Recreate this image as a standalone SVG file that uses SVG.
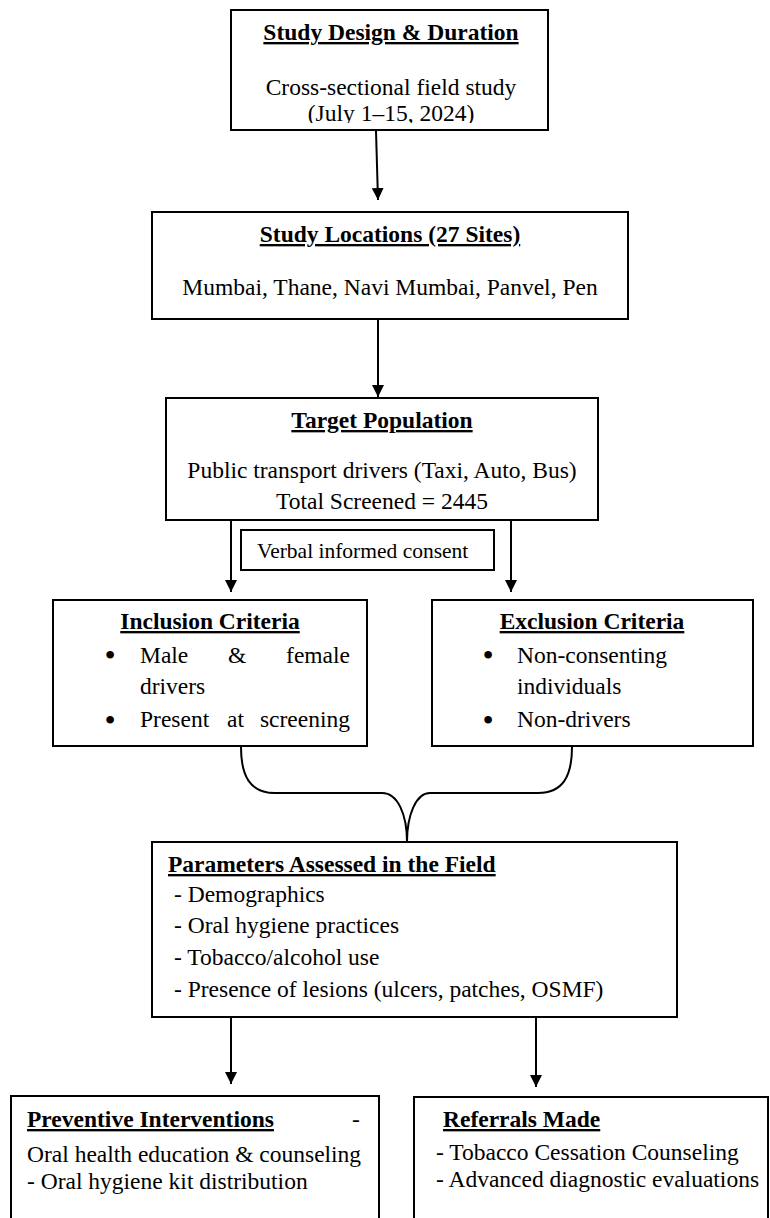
<svg xmlns="http://www.w3.org/2000/svg" width="770" height="1218" viewBox="0 0 770 1218">
<style>
  .box{fill:#fff;stroke:#000;stroke-width:2}
  .t{font-family:"Liberation Serif","Times New Roman",serif;font-size:23.5px;fill:#000}
  .b{font-weight:bold;text-decoration:underline}
  .c{text-anchor:middle}
  .e{text-anchor:end}
  .s{font-size:21.5px}
  .bu{font-size:32px;text-anchor:middle}
  .ln{fill:none;stroke:#000;stroke-width:2}
</style>
<defs>
  <marker id="ah" viewBox="0 0 10 10" refX="10" refY="5" markerWidth="6" markerHeight="6" orient="auto" markerUnits="strokeWidth">
    <path d="M0,0 L10,5 L0,10 z" fill="#000"/>
  </marker>
  <clipPath id="clip1"><rect x="231" y="10" width="317" height="113"/></clipPath>
</defs>
<rect width="770" height="1218" fill="#fff"/>

<g id="connectors">
  <line class="ln" x1="376" y1="131" x2="378" y2="200" marker-end="url(#ah)"/>
  <line class="ln" x1="378" y1="320" x2="378" y2="397" marker-end="url(#ah)"/>
  <line class="ln" x1="231" y1="521" x2="231" y2="592" marker-end="url(#ah)"/>
  <line class="ln" x1="511" y1="521" x2="511" y2="592" marker-end="url(#ah)"/>
  <path class="ln" d="M241,747 C241,776 250,793 275,793 L382,793 C398,793 407,815 407,842"/>
  <path class="ln" d="M572,747 C572,776 563,793 538,793 L430,793 C416,793 407,815 407,842"/>
  <line class="ln" x1="231" y1="1018" x2="231" y2="1084" marker-end="url(#ah)"/>
  <line class="ln" x1="536" y1="1018" x2="536" y2="1087" marker-end="url(#ah)"/>
</g>

<g id="n1">
  <rect class="box" x="231" y="10" width="317" height="120"/>
  <text class="t b c" x="391" y="40">Study Design &amp; Duration</text>
  <text class="t c" x="391" y="95">Cross-sectional field study</text>
  <text class="t c" x="391" y="121" clip-path="url(#clip1)">(July 1–15, 2024)</text>
</g>

<g id="n2">
  <rect class="box" x="152" y="212" width="476" height="107"/>
  <text class="t b c" x="390" y="242">Study Locations (27 Sites)</text>
  <text class="t c" x="390" y="295">Mumbai, Thane, Navi Mumbai, Panvel, Pen</text>
</g>

<g id="n3">
  <rect class="box" x="166" y="398" width="432" height="122"/>
  <text class="t b c" x="382" y="428">Target Population</text>
  <text class="t c" x="382" y="478">Public transport drivers (Taxi, Auto, Bus)</text>
  <text class="t c" x="382" y="509">Total Screened = 2445</text>
</g>

<g id="consent">
  <rect class="box" x="241" y="530" width="253" height="40"/>
  <text class="t s" x="257" y="558">Verbal informed consent</text>
</g>

<g id="n4">
  <rect class="box" x="53" y="600" width="314" height="146"/>
  <text class="t b c" x="210" y="629">Inclusion Criteria</text>
  <text class="t bu" x="110" y="666">•</text>
  <text class="t" x="140" y="663">Male</text>
  <text class="t" x="228" y="663">&amp;</text>
  <text class="t e" x="350" y="663">female</text>
  <text class="t" x="140" y="694">drivers</text>
  <text class="t bu" x="110" y="731">•</text>
  <text class="t" x="140" y="727">Present</text>
  <text class="t" x="227" y="727">at</text>
  <text class="t e" x="350" y="727">screening</text>
</g>

<g id="n5">
  <rect class="box" x="432" y="600" width="321" height="146"/>
  <text class="t b c" x="592" y="629">Exclusion Criteria</text>
  <text class="t bu" x="488" y="666">•</text>
  <text class="t" x="517" y="663">Non-consenting</text>
  <text class="t" x="517" y="694">individuals</text>
  <text class="t bu" x="488" y="731">•</text>
  <text class="t" x="517" y="727">Non-drivers</text>
</g>

<g id="n6">
  <rect class="box" x="152" y="842" width="525" height="175"/>
  <text class="t b" x="168" y="872">Parameters Assessed in the Field</text>
  <text class="t" x="174" y="902">- Demographics</text>
  <text class="t" x="174" y="933">- Oral hygiene practices</text>
  <text class="t" x="174" y="965">- Tobacco/alcohol use</text>
  <text class="t" x="174" y="997">- Presence of lesions (ulcers, patches, OSMF)</text>
</g>

<g id="n7">
  <rect class="box" x="11" y="1096" width="368" height="140"/>
  <text class="t b" x="27" y="1127">Preventive Interventions</text>
  <text class="t" x="352" y="1127">-</text>
  <text class="t" x="27" y="1162">Oral health education &amp; counseling</text>
  <text class="t" x="27" y="1189">- Oral hygiene kit distribution</text>
</g>

<g id="n8">
  <rect class="box" x="414" y="1097" width="354" height="140"/>
  <text class="t b" x="443" y="1127">Referrals Made</text>
  <text class="t" x="436" y="1160">- Tobacco Cessation Counseling</text>
  <text class="t" x="436" y="1187">- Advanced diagnostic evaluations</text>
</g>
</svg>
